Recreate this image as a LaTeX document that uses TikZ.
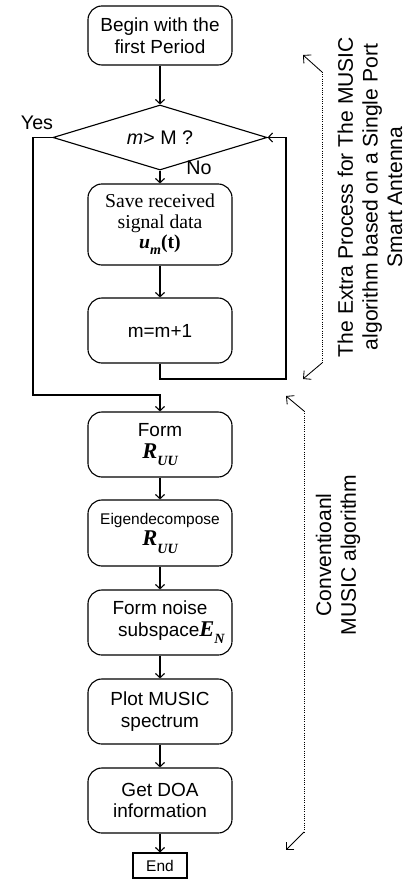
\documentclass[tikz,border=0pt]{standalone}
\usepackage{fontspec}
\setmainfont{Liberation Sans}
\newfontfamily\seriffont{Liberation Serif}
\usetikzlibrary{arrows.meta,shapes.geometric}
\def\bisub#1#2{{\seriffont\bfseries\itshape #1\raisebox{-0.7ex}{\fontsize{10}{10}\selectfont #2}}}
\tikzset{
  procbox/.style={draw, line width=0.8pt, rounded corners=0.35cm, minimum width=3.6cm,
    minimum height=1.625cm, align=center, inner sep=1pt, font=\fontsize{13.5}{15.5}\selectfont},
  testbox/.style={draw, line width=0.8pt, shape=diamond, aspect=3.3, minimum width=5.35cm,
    minimum height=1.625cm, inner sep=2pt, font=\fontsize{14}{16}\selectfont},
  flowline/.style={line width=0.8pt, -{Straight Barb[length=3pt,width=6.5pt]}},
  brkline/.style={line width=0.6pt, -{Straight Barb[length=4pt,width=8pt]}},
  sidetext/.style={rotate=90, align=center, font=\fontsize{15}{17.5}\selectfont}
}
\begin{document}
\begin{tikzpicture}[x=0.025cm, y=-0.025cm]
			%%%%% START %%%%%
			\useasboundingbox (0, 0) rectangle (416, 879);
			
			\node[procbox, minimum height=1.475cm] (begin) at (160, 35.5) {Begin with the\\first Period};
			\node[testbox] (check) at (160, 137.5) {\textit{m}> M ?};
			\node[procbox, minimum height=2.025cm, font=\seriffont\fontsize{14}{14.5}\selectfont] (save) at (160, 224.5)
			  {Save received\\signal data\\\bisub{u}{m}\textbf{(t)}};
			\node[procbox] (incr) at (160, 330.5) {m=m+1};
			
			\node[procbox] (formR) at (160, 444.5) {Form\\\bisub{\fontsize{16}{16}\selectfont R}{UU}};
			\node[procbox, minimum height=1.65cm] (eigen) at (160, 533)
			  {{\fontsize{11}{13}\selectfont Eigendecompose}\\\bisub{\fontsize{16}{16}\selectfont R}{UU}};
			\node[procbox] (noise) at (160, 622.5) {Form noise\\\hspace*{1.2em}subspace\bisub{\fontsize{16}{16}\selectfont E}{N}};
			\node[procbox] (plot) at (160, 711.5) {Plot MUSIC\\spectrum};
			\node[procbox] (doa) at (160, 800.5) {Get DOA\\information};
			\node[draw, line width=0.8pt, minimum width=1.35cm, minimum height=0.625cm, inner sep=1pt,
			  font=\fontsize{11}{13}\selectfont] (end) at (160, 865.5) {End};
			
			\node[font=\fontsize{14}{16}\selectfont] (yes) at (37, 123) {Yes};
			\node[font=\fontsize{14}{16}\selectfont] (no) at (199, 168) {No};
			
			\coordinate (yesL) at (33, 395);
			\coordinate (loopR) at (286, 379);
			
			\draw[flowline] (begin) -- (check);
			\draw[flowline] (check) -- (save);
			\draw[flowline] (save) -- (incr);
			\draw[flowline] (incr.south) |- (loopR) |- (check.east);
			\draw[flowline] (check.west) -| (yesL) -| (formR.north);
			\draw[flowline] (formR) -- (eigen);
			\draw[flowline] (eigen) -- (noise);
			\draw[flowline] (noise) -- (plot);
			\draw[flowline] (plot) -- (doa);
			\draw[flowline] (doa) -- (end);
			
			% bracket for the extra process
			\coordinate (xtop) at (322, 72);
			\coordinate (xtopTip) at (303, 55);
			\coordinate (xbot) at (322, 363);
			\coordinate (xbotTip) at (303, 379);
			\draw[line width=0.6pt, densely dotted] (xtop) -- (xbot);
			\draw[brkline] (xtop) -- (xtopTip);
			\draw[brkline] (xbot) -- (xbotTip);
			\node[sidetext] (extra) at (370, 197) {The Extra Process for The MUSIC\\algorithm based on a Single Port\\Smart Antenna};
			
			% bracket for the conventional part
			\coordinate (ctop) at (304, 411);
			\coordinate (ctopTip) at (286, 396);
			\coordinate (cbot) at (304, 832);
			\coordinate (cbotTip) at (286, 850);
			\draw[line width=0.6pt, densely dotted] (ctop) -- (cbot);
			\draw[brkline] (ctop) -- (ctopTip);
			\draw[brkline] (cbot) -- (cbotTip);
			\node[sidetext] (conv) at (338, 555) {Conventioanl\\MUSIC algorithm};
			
			%%%%% END %%%%%
		\end{tikzpicture}
\end{document}
